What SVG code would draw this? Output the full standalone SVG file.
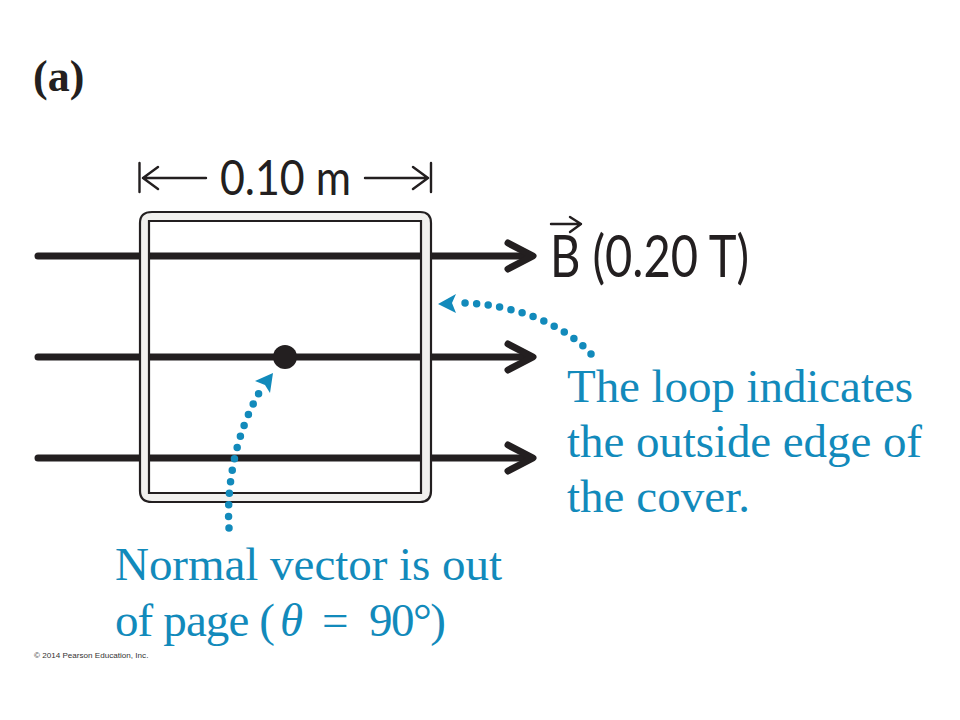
<svg xmlns="http://www.w3.org/2000/svg" width="960" height="720" viewBox="0 0 960 720">
<style>
.f{stroke:#231f20;stroke-width:7;fill:none;stroke-linecap:round;stroke-linejoin:round}
.d{stroke:#231f20;stroke-width:2.4;fill:none;stroke-linecap:round;stroke-linejoin:round}
.b{stroke:#128abb;stroke-width:7.5;fill:none;stroke-linecap:round;stroke-dasharray:0 11.6}
.h{font-family:"Lato","Liberation Sans",sans-serif;fill:#231f20}
.c{font-family:"Liberation Serif",serif;font-size:47px;fill:#128abb}
</style>
<rect width="960" height="720" fill="#fff"/>
<text x="33" y="91" font-family="Liberation Serif,serif" font-weight="bold" font-size="44" fill="#231f20">(a)</text>
<g id="field-lines">
<path class="f" d="M38 256H530M38 357H530M38 458H530"/>
<path class="f" d="M508 243L533 256L508 269M508 344L533 357L508 370M508 445L533 458L508 471"/>
</g>
<g id="loop">
<path d="M152 212H420Q431 212 431 223V491Q431 502 420 502H152Q140 502 140 491V223Q140 212 152 212ZM149 221V493H421V221Z" fill="#f1f0ee" fill-rule="evenodd" stroke="#231f20" stroke-width="2.2"/>
</g>
<g id="dimension">
<path class="d" d="M139.500 163V192M431 163V192M143 178H206M143 178L158 167M143 178L158 189M365 178H428M428 178L413 167M428 178L413 189"/>
<text class="h" x="220" y="195" font-size="48" textLength="131" lengthAdjust="spacingAndGlyphs">0.10 m</text>
</g>
<g id="field-label">
<path class="d" d="M551 224H581M570 217L581 224L570 232"/>
<text class="h" x="550" y="277" font-size="58" textLength="199" lengthAdjust="spacingAndGlyphs">B (0.20 T)</text>
</g>
<circle id="center-dot" cx="285" cy="357" r="12" fill="#231f20"/>
<g id="connectors">
<path class="b" d="M591 354C565 325 515 304 462 303"/>
<path d="M438 304L456 294L452 303L456 313Z" fill="#128abb"/>
<path class="b" d="M229 528C226 480 238 430 259 393"/>
<path d="M273 373L255 381L265 385L270 393Z" fill="#128abb"/>
</g>
<g id="label-loop">
<text class="c" x="567" y="402" textLength="346">The loop indicates</text>
<text class="c" x="567" y="457" textLength="355">the outside edge of</text>
<text class="c" x="567" y="512" textLength="183">the cover.</text>
</g>
<g id="label-normal">
<text class="c" x="115" y="580" textLength="387">Normal vector is out</text>
<text class="c" x="115" y="636" textLength="160">of page (</text>
<text class="c" x="280" y="636" font-style="italic">θ</text>
<text class="c" x="322" y="636">=</text>
<text class="c" x="369" y="636" textLength="77">90°)</text>
</g>
<text x="34" y="658" font-family="Liberation Sans,sans-serif" font-size="8.100" fill="#333">© 2014 Pearson Education, Inc.</text>
</svg>
